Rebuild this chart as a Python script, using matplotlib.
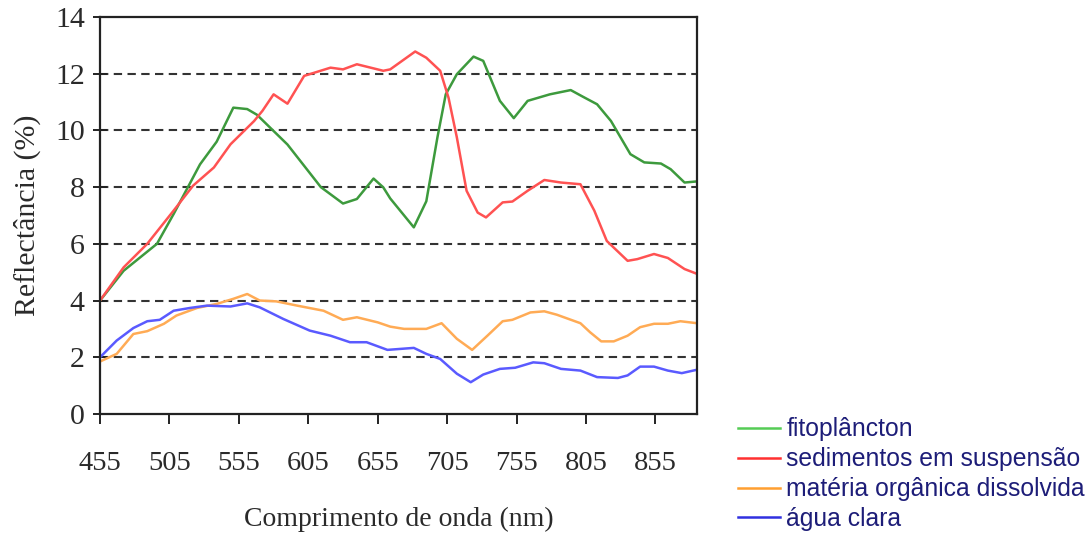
"""Reflectance spectra of water constituents (recreated figure)."""

import matplotlib

matplotlib.use("Agg")
import matplotlib.pyplot as plt
import numpy as np


# wavelength (nm) / reflectance (%)
FITO_NM = [455, 472, 496, 508, 527, 539, 551, 561, 568, 590, 614, 630, 640, 652, 659,
           664, 681, 690, 698, 704, 712, 724, 731, 743, 753, 763, 779, 794, 803, 813,
           823, 837, 847, 859, 866, 876, 885]
FITO = [4.0, 5.05, 6.0, 7.05, 8.8, 9.6, 10.8, 10.75, 10.55, 9.5, 8.0, 7.42, 7.58, 8.3, 7.99,
        7.6, 6.58, 7.5, 9.75, 11.27, 11.98, 12.6, 12.45, 11.04, 10.43, 11.04, 11.27, 11.42,
        11.18, 10.92, 10.33, 9.16, 8.87, 8.83, 8.63, 8.16, 8.2]

SED_NM = [455, 472, 489, 508, 522, 537, 549, 566, 572, 580, 590, 602, 621, 630, 640, 659,
          664, 682, 690, 700, 706, 712, 719, 727, 733, 745, 752, 763, 775, 787, 801, 811,
          820, 835, 842, 854, 864, 876, 885]
SED = [4.0, 5.17, 6.0, 7.17, 8.05, 8.69, 9.51, 10.33, 10.69, 11.27, 10.94, 11.92, 12.21,
       12.15, 12.33, 12.1, 12.15, 12.78, 12.56, 12.1, 11.15, 9.75, 7.87, 7.1, 6.93, 7.46,
       7.49, 7.87, 8.25, 8.16, 8.1, 7.17, 6.1, 5.4, 5.46, 5.64, 5.5, 5.11, 4.94]

MOD_NM = [455, 467, 479, 489, 501, 510, 525, 539, 551, 561, 570, 582, 597, 616, 630, 640,
          655, 664, 674, 690, 701, 712, 723, 734, 745, 752, 765, 775, 784, 801, 808, 816,
          825, 835, 844, 854, 864, 873, 885]
MOD = [1.85, 2.12, 2.82, 2.92, 3.18, 3.47, 3.74, 3.88, 4.06, 4.23, 4.0, 3.97, 3.82, 3.64,
       3.32, 3.41, 3.23, 3.08, 3.0, 3.0, 3.2, 2.65, 2.26, 2.76, 3.27, 3.32, 3.58, 3.62, 3.5,
       3.2, 2.88, 2.56, 2.56, 2.76, 3.06, 3.18, 3.18, 3.27, 3.2]

AGUA_NM = [455, 467, 479, 489, 498, 508, 520, 532, 549, 561, 570, 587, 606, 621, 635, 647,
           662, 681, 690, 700, 712, 722, 731, 743, 754, 767, 775, 787, 801, 813, 828, 835,
           844, 854, 864, 874, 885]
AGUA = [2.0, 2.59, 3.03, 3.27, 3.32, 3.64, 3.74, 3.82, 3.79, 3.9, 3.76, 3.35, 2.94, 2.76,
        2.53, 2.53, 2.26, 2.33, 2.12, 1.94, 1.42, 1.12, 1.39, 1.59, 1.63, 1.82, 1.79, 1.59,
        1.53, 1.3, 1.27, 1.36, 1.67, 1.67, 1.53, 1.44, 1.56]

SERIES = [
    ("fitoplâncton", FITO_NM, FITO, "#3d9a3d", "#55cc55"),
    ("sedimentos em suspensão", SED_NM, SED, "#ff5252", "#ff3030"),
    ("matéria orgânica dissolvida", MOD_NM, MOD, "#ffab55", "#ff9f30"),
    ("água clara", AGUA_NM, AGUA, "#5a5aff", "#3030e0"),
]
X_TICKS = [455, 505, 555, 605, 655, 705, 755, 805, 855]
Y_TICKS = [0, 2, 4, 6, 8, 10, 12, 14]

SERIF = ["Liberation Serif", "DejaVu Serif"]
SANS = ["Liberation Sans", "DejaVu Sans"]


fig = plt.figure(figsize=(10.91, 5.33), dpi=100)
ax = fig.add_axes([0.0917, 0.2233, 0.5472, 0.745])

handles = []
for name, nm, vals, color, legend_color in SERIES:
    ax.plot(nm, vals, color=color, linewidth=1.8, solid_joinstyle="round")
    handles.append(plt.Line2D([], [], color=legend_color, linewidth=1.8, label=name))

for yv in Y_TICKS[1:-1]:
    ax.axhline(yv, color="#333333", linewidth=1.5, linestyle=(0, (4, 2.6)), zorder=0)

ax.set_xlim(455, 885)
ax.set_ylim(0, 14)
ax.set_xticks(X_TICKS)
ax.set_yticks(Y_TICKS)
for spine in ax.spines.values():
    spine.set_color("#222222")
    spine.set_linewidth(1.6)
ax.tick_params(axis="x", direction="out", length=7, width=1.4, pad=20, color="#222222")
ax.tick_params(axis="y", direction="inout", length=10, width=1.4, pad=6, color="#222222")
for lab in ax.get_xticklabels():
    lab.set_fontfamily(SERIF)
    lab.set_fontsize(20.5)
    lab.set_color("#2a2a2a")
for lab in ax.get_yticklabels():
    lab.set_fontfamily(SERIF)
    lab.set_fontsize(21.5)
    lab.set_color("#2a2a2a")

ax.set_xlabel("Comprimento de onda (nm)", fontfamily=SERIF, fontsize=20,
              color="#2a2a2a", labelpad=22)
ax.set_ylabel("Reflectância (%)", fontfamily=SERIF, fontsize=21.5,
              color="#2a2a2a", labelpad=10)

leg = fig.legend(handles=handles, loc="upper left", bbox_to_anchor=(0.676, 0.217),
                 frameon=False, prop={"family": SANS, "size": 17.8},
                 handlelength=1.7, handletextpad=0.28, labelspacing=0.24,
                 borderaxespad=0.0, borderpad=0.0)
for txt in leg.get_texts():
    txt.set_color("#1d1d78")

fig.savefig("out.png", dpi=100)
